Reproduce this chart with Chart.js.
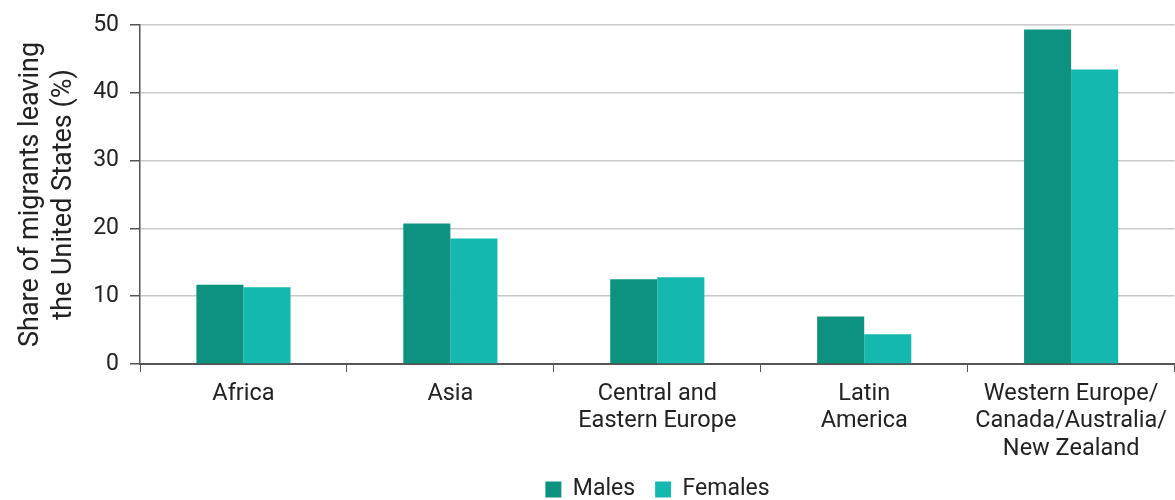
<!DOCTYPE html>
<html>
<head>
<meta charset="utf-8">
<script src="https://cdn.jsdelivr.net/npm/chart.js@4"></script>
<style>
  body { margin: 0; background: #fff; }
  #wrap { width: 1175px; height: 500px; }
</style>
</head>
<body>
<div id="wrap"><canvas id="chart"></canvas></div>
<script>
const categories = [
    'Africa',
    'Asia',
    ['Central and', 'Eastern Europe'],
    ['Latin', 'America'],
    ['Western Europe/', 'Canada/Australia/', 'New Zealand']
];
const males = [11.7, 20.7, 12.5, 7.0, 49.3];
const females = [11.3, 18.5, 12.8, 4.4, 43.4];
const yTicks = [0, 10, 20, 30, 40, 50];

const textColor = '#222';
const axisColor = '#555';

// centre the legend under the plot area instead of the whole canvas
const legendUnderPlot = {
    id: 'legendUnderPlot',
    afterLayout(chart) {
        if (chart.legend) chart.legend.left = chart.chartArea.left;
    }
};

const ctx = document.getElementById('chart').getContext('2d');
const chart = new Chart(ctx, {
    type: 'bar',
    data: {
        labels: categories,
        datasets: [
            {
                label: 'Males',
                data: males,
                backgroundColor: '#0e9280',
                borderWidth: 0,
                barPercentage: 1,
                categoryPercentage: 0.455
            },
            {
                label: 'Females',
                data: females,
                backgroundColor: '#14b8ae',
                borderWidth: 0,
                barPercentage: 1,
                categoryPercentage: 0.455
            }
        ]
    },
    plugins: [legendUnderPlot],
    options: {
        responsive: true,
        maintainAspectRatio: false,
        animation: false,
        layout: { padding: { top: 21.5, right: 0, bottom: 0, left: 0 } },
        plugins: {
            tooltip: { enabled: false },
            legend: {
                position: 'bottom',
                maxHeight: 42,
                labels: {
                    color: textColor,
                    font: { family: 'Roboto', size: 23 },
                    boxWidth: 16,
                    boxHeight: 16,
                    padding: 20
                }
            }
        },
        scales: {
            x: {
                offset: true,
                grid: {
                    offset: true,
                    drawOnChartArea: false,
                    tickColor: axisColor,
                    tickLength: 8
                },
                border: { color: axisColor, width: 2 },
                ticks: {
                    color: textColor,
                    font: { family: 'Roboto', size: 23.5, lineHeight: 1.18 },
                    padding: 8,
                    maxRotation: 0,
                    autoSkip: false
                },
                afterFit: function(scale) { scale.height = 94; }
            },
            y: {
                min: 0,
                max: 50,
                afterBuildTicks: function(scale) {
                    scale.ticks = yTicks.map(v => ({ value: v }));
                },
                grid: {
                    color: function(c) { return c.tick && c.tick.value === 0 ? 'rgba(0,0,0,0)' : '#c8c8c8'; },
                    lineWidth: 1.5,
                    tickColor: axisColor,
                    tickLength: 10
                },
                border: { color: axisColor, width: 1.5 },
                ticks: {
                    color: textColor,
                    font: { family: 'Roboto', size: 23 },
                    padding: 11
                },
                title: {
                    display: true,
                    text: ['Share of migrants leaving', 'the United States (%)'],
                    color: textColor,
                    font: { family: 'Roboto', size: 27, lineHeight: 1.22 },
                    padding: { top: 15, bottom: 0 }
                },
                afterFit: function(scale) { scale.width = 140; }
            }
        }
    }
});
</script>
</body>
</html>
